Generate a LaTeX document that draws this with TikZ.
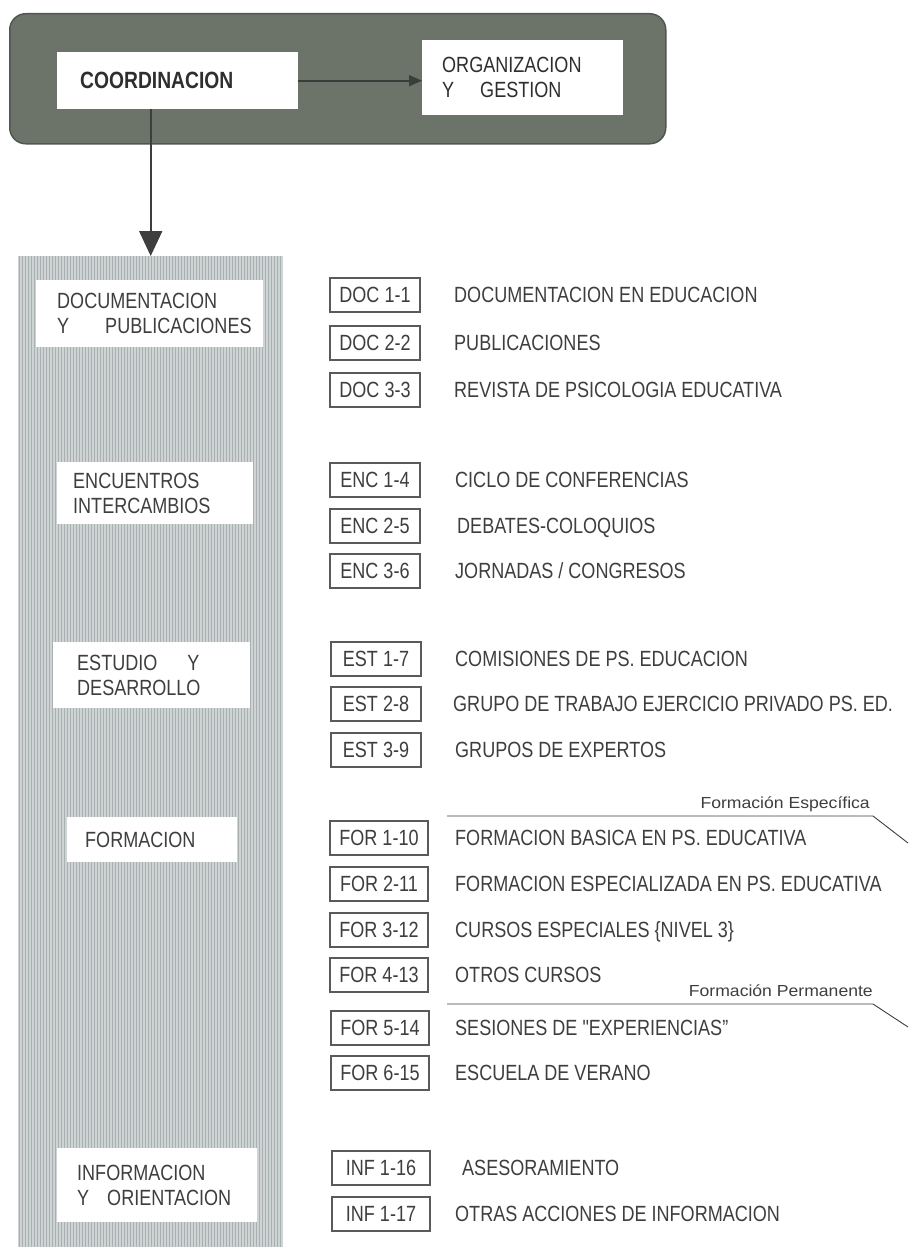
\documentclass[tikz,border=0pt]{standalone}
\usepackage{fontspec}
\setmainfont[FakeStretch=0.82,Ligatures=TeXOff]{Liberation Sans}
\newfontfamily\notef[FakeStretch=1.1]{Liberation Sans}
\usetikzlibrary{arrows.meta}
\definecolor{ink}{RGB}{62,62,62}
\definecolor{topink}{RGB}{45,47,45}
\definecolor{darkbg}{RGB}{108,116,106}
\definecolor{darkedge}{RGB}{80,86,80}
\definecolor{colbg}{RGB}{206,212,212}
\definecolor{colstripe}{RGB}{168,176,178}
\definecolor{boxline}{RGB}{90,90,90}
\definecolor{arrink}{RGB}{58,62,58}
\begin{document}
\begin{tikzpicture}[x=1pt,y=-1pt,
  lab/.style={font=\fontsize{22}{25}\selectfont, text=ink, inner sep=0pt},
  item/.style={lab, anchor=west, text height=15.7pt, text depth=0pt},
  codebox/.style={lab, draw=boxline, line width=1.2pt, fill=white, minimum height=34pt, text height=15.7pt, text depth=0pt},
  whitebox/.style={fill=white, anchor=north west, inner sep=0pt},
  boxtext/.style={lab, anchor=west, align=left},
  note/.style={font=\notef\fontsize{16}{19}\selectfont, text=ink, inner sep=0pt, anchor=base east},
  bracket/.style={draw=ink, line width=0.9pt}
]
\useasboundingbox (0,0) rectangle (908,1247);

% top band
\node[draw=darkedge, line width=1.5pt, fill=darkbg, rounded corners=16pt, minimum width=656pt, minimum height=130pt, anchor=north west, inner sep=0pt] (band) at (9,13) {};
\node[whitebox, minimum width=241pt, minimum height=57pt] (coord) at (57,52) {};
\node[boxtext, text=topink, font=\bfseries\fontsize{23.5}{27}\selectfont] (coordt) at ([xshift=23pt]coord.west) {COORDINACION};
\node[whitebox, minimum width=201pt, minimum height=75pt] (org) at (422,40) {};
\node[boxtext, text=topink] (orgt) at ([xshift=20pt]org.west) {ORGANIZACION\\Y\hspace{26pt}GESTION};
\draw[draw=arrink, line width=1.6pt, -{Triangle[width=11pt,length=13pt]}] (coord.east) -- (coord.east -| org.west);

% left column
\node[fill=colbg, minimum width=265pt, minimum height=991pt, anchor=north west, inner sep=0pt] (col) at (18,256) {};
\foreach \k in {0,...,87} {
  \draw[colstripe, line width=1pt] ([xshift=\k*3pt+1.5pt]col.north west) -- ([xshift=\k*3pt+1.5pt]col.south west);
}
\draw[draw=ink, line width=2pt, -{Triangle[width=23pt,length=25pt]}] (coord.south -| col.north) -- (col.north);

\node[whitebox, minimum width=227pt, minimum height=67pt] (gdoc) at (36,280) {};
\node[boxtext] (gdoct) at ([xshift=21pt]gdoc.west) {DOCUMENTACION\\Y\hspace{36pt}PUBLICACIONES};
\node[whitebox, minimum width=196pt, minimum height=62pt] (genc) at (57,462) {};
\node[boxtext] (genct) at ([xshift=16pt]genc.west) {ENCUENTROS\\INTERCAMBIOS};
\node[whitebox, minimum width=197pt, minimum height=66pt] (gest) at (53,642) {};
\node[boxtext] (gestt) at ([xshift=24pt]gest.west) {ESTUDIO\hspace{30pt}Y\\DESARROLLO};
\node[whitebox, minimum width=170pt, minimum height=45pt] (gfor) at (67,817) {};
\node[boxtext] (gfort) at ([xshift=18pt]gfor.west) {FORMACION};
\node[whitebox, minimum width=200pt, minimum height=74pt] (ginf) at (57,1148) {};
\node[boxtext] (ginft) at ([xshift=20pt]ginf.west) {INFORMACION\\Y\hspace{18pt}ORIENTACION};

% code boxes
\node[codebox, minimum width=90pt] (cd1) at (375,295) {DOC 1-1};
\node[codebox, minimum width=90pt] (cd2) at (375,343) {DOC 2-2};
\node[codebox, minimum width=90pt] (cd3) at (375,390) {DOC 3-3};
\node[codebox, minimum width=90pt] (ce1) at (375,480) {ENC 1-4};
\node[codebox, minimum width=90pt] (ce2) at (375,526) {ENC 2-5};
\node[codebox, minimum width=90pt] (ce3) at (375,571) {ENC 3-6};
\node[codebox, minimum width=90pt] (cs1) at (376,659) {EST 1-7};
\node[codebox, minimum width=90pt] (cs2) at (376,704) {EST 2-8};
\node[codebox, minimum width=90pt] (cs3) at (376,750) {EST 3-9};
\node[codebox, minimum width=98pt] (cf1) at (379,838) {FOR 1-10};
\node[codebox, minimum width=98pt] (cf2) at (379,884) {FOR 2-11};
\node[codebox, minimum width=98pt] (cf3) at (379,930) {FOR 3-12};
\node[codebox, minimum width=98pt] (cf4) at (379,975) {FOR 4-13};
\node[codebox, minimum width=98pt] (cf5) at (380,1028) {FOR 5-14};
\node[codebox, minimum width=98pt] (cf6) at (380,1073) {FOR 6-15};
\node[codebox, minimum width=98pt] (ci1) at (381,1168) {INF 1-16};
\node[codebox, minimum width=98pt] (ci2) at (381,1214) {INF 1-17};

% item texts
\node[item] (td1) at (454,295) {DOCUMENTACION EN EDUCACION};
\node[item] (td2) at (454,343) {PUBLICACIONES};
\node[item] (td3) at (454,390) {REVISTA DE PSICOLOGIA EDUCATIVA};
\node[item] (te1) at (455,480) {CICLO DE CONFERENCIAS};
\node[item] (te2) at (457,526) {DEBATES-COLOQUIOS};
\node[item] (te3) at (455,571) {JORNADAS / CONGRESOS};
\node[item] (ts1) at (455,659) {COMISIONES DE PS. EDUCACION};
\node[item] (ts2) at (453,704) {GRUPO DE TRABAJO EJERCICIO PRIVADO PS. ED.};
\node[item] (ts3) at (455,750) {GRUPOS DE EXPERTOS};
\node[item] (tf1) at (455,838) {FORMACION BASICA EN PS. EDUCATIVA};
\node[item] (tf2) at (455,884) {FORMACION ESPECIALIZADA EN PS. EDUCATIVA};
\node[item] (tf3) at (455,930) {CURSOS ESPECIALES \{NIVEL 3\}};
\node[item] (tf4) at (455,975) {OTROS CURSOS};
\node[item] (tf5) at (455,1028) {SESIONES DE "EXPERIENCIAS”};
\node[item] (tf6) at (455,1073) {ESCUELA DE VERANO};
\node[item] (ti1) at (462,1168) {ASESORAMIENTO};
\node[item] (ti2) at (455,1214) {OTRAS ACCIONES DE INFORMACION};

% bracket notes
\coordinate (fea) at (447,816);
\coordinate (feb) at (873,816);
\coordinate (fec) at (908,843);
\draw[bracket] (fea) -- (feb) -- (fec);
\node[note] (fen) at (870,808) {Formación Específica};
\coordinate (fpa) at (447,1004);
\coordinate (fpb) at (873,1004);
\coordinate (fpc) at (908,1027);
\draw[bracket] (fpa) -- (fpb) -- (fpc);
\node[note] (fpn) at (873,996) {Formación Permanente};
\end{tikzpicture}
\end{document}
